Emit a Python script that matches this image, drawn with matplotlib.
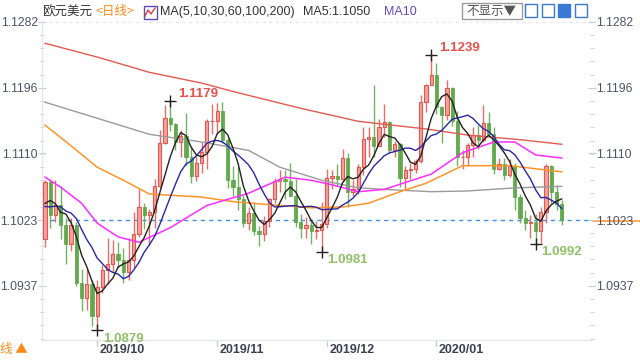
import numpy as np
import pandas as pd
import matplotlib
matplotlib.use("Agg")
import matplotlib.pyplot as plt
from matplotlib.patches import Rectangle
from matplotlib.lines import Line2D
from matplotlib.transforms import blended_transform_factory

plt.rcParams['font.family'] = ['Liberation Sans', 'Noto Sans CJK SC', 'DejaVu Sans']

# ---------------- dados (EUR/USD diário) ----------------
datas = pd.bdate_range("2019-09-17", "2020-02-05")
datas = datas[~datas.isin(pd.to_datetime(["2019-12-25", "2020-01-01"]))]

abertura = [1.0998, 1.1073, 1.1030, 1.1042, 1.1017, 1.0992, 1.1016, 1.0941, 1.0921, 1.0940,
            1.0898, 1.0935, 1.0958, 1.0966, 1.0978, 1.0971, 1.0955, 1.0971, 1.1005, 1.1040,
            1.1029, 1.1033, 1.1068, 1.1124, 1.1156, 1.1148, 1.1125, 1.1133, 1.1105, 1.1080,
            1.1098, 1.1112, 1.1152, 1.1152, 1.1165, 1.1128, 1.1075, 1.1066, 1.1050, 1.1019,
            1.1032, 1.1008, 1.1005, 1.1022, 1.1050, 1.1074, 1.1077, 1.1074, 1.1055, 1.1020,
            1.1012, 1.1017, 1.1008, 1.1010, 1.1018, 1.1078, 1.1081, 1.1077, 1.1104, 1.1059,
            1.1063, 1.1092, 1.1129, 1.1131, 1.1120, 1.1144, 1.1151, 1.1114, 1.1122, 1.1078,
            1.1089, 1.1090, 1.1100, 1.1177, 1.1200, 1.1213, 1.1171, 1.1160, 1.1195, 1.1153,
            1.1105, 1.1106, 1.1121, 1.1134, 1.1128, 1.1150, 1.1136, 1.1090, 1.1096, 1.1082,
            1.1094, 1.1053, 1.1026, 1.1019, 1.1021, 1.1008, 1.1033, 1.1093, 1.1060, 1.1044]
maxima = [1.1075, 1.1076, 1.1075, 1.1068, 1.1025, 1.1025, 1.1020, 1.0959, 1.0959, 1.0944,
          1.0944, 1.0964, 1.0999, 1.0997, 1.0994, 1.0986, 1.0999, 1.1034, 1.1063, 1.1045,
          1.1038, 1.1076, 1.1140, 1.1173, 1.1179, 1.1150, 1.1140, 1.1163, 1.1118, 1.1107,
          1.1125, 1.1155, 1.1175, 1.1176, 1.1177, 1.1130, 1.1093, 1.1092, 1.1056, 1.1040,
          1.1047, 1.1015, 1.1028, 1.1052, 1.1078, 1.1088, 1.1089, 1.1097, 1.1077, 1.1031,
          1.1027, 1.1024, 1.1022, 1.1047, 1.1090, 1.1089, 1.1096, 1.1116, 1.1110, 1.1075,
          1.1096, 1.1145, 1.1145, 1.1200, 1.1155, 1.1175, 1.1153, 1.1126, 1.1124, 1.1093,
          1.1097, 1.1103, 1.1187, 1.1201, 1.1239, 1.1228, 1.1172, 1.1206, 1.1197, 1.1166,
          1.1114, 1.1124, 1.1144, 1.1147, 1.1173, 1.1164, 1.1145, 1.1104, 1.1104, 1.1103,
          1.1098, 1.1057, 1.1036, 1.1030, 1.1031, 1.1040, 1.1096, 1.1095, 1.1069, 1.1049]
minima = [1.0988, 1.1013, 1.1020, 1.0998, 1.0966, 1.0982, 1.0937, 1.0904, 1.0905, 1.0885,
          1.0879, 1.0928, 1.0940, 1.0955, 1.0960, 1.0941, 1.0945, 1.0960, 1.1001, 1.1011,
          1.0991, 1.1012, 1.1065, 1.1122, 1.1139, 1.1115, 1.1105, 1.1094, 1.1071, 1.1074,
          1.1085, 1.1090, 1.1135, 1.1136, 1.1124, 1.1065, 1.1055, 1.1036, 1.1014, 1.1010,
          1.1003, 1.0989, 1.0996, 1.1014, 1.1045, 1.1060, 1.1051, 1.1054, 1.1014, 1.0999,
          1.1000, 1.0992, 1.0998, 1.0981, 1.1012, 1.1063, 1.1067, 1.1073, 1.1040, 1.1055,
          1.1057, 1.1082, 1.1106, 1.1105, 1.1120, 1.1131, 1.1110, 1.1106, 1.1066, 1.1064,
          1.1077, 1.1085, 1.1097, 1.1164, 1.1199, 1.1162, 1.1124, 1.1154, 1.1146, 1.1093,
          1.1090, 1.1094, 1.1105, 1.1116, 1.1125, 1.1133, 1.1083, 1.1088, 1.1075, 1.1079,
          1.1036, 1.1019, 1.1010, 1.0999, 1.0992, 1.0993, 1.1019, 1.1045, 1.1036, 1.1016]
fechamento = [1.1073, 1.1030, 1.1042, 1.1017, 1.0992, 1.1016, 1.0941, 1.0921, 1.0940, 1.0898,
              1.0935, 1.0958, 1.0966, 1.0978, 1.0971, 1.0955, 1.0971, 1.1005, 1.1040, 1.1029,
              1.1033, 1.1068, 1.1124, 1.1156, 1.1148, 1.1125, 1.1133, 1.1105, 1.1080, 1.1098,
              1.1112, 1.1152, 1.1152, 1.1165, 1.1128, 1.1075, 1.1066, 1.1050, 1.1019, 1.1032,
              1.1008, 1.1005, 1.1022, 1.1050, 1.1074, 1.1077, 1.1074, 1.1055, 1.1020, 1.1012,
              1.1017, 1.1008, 1.1010, 1.1018, 1.1078, 1.1081, 1.1077, 1.1104, 1.1059, 1.1063,
              1.1092, 1.1129, 1.1131, 1.1120, 1.1144, 1.1151, 1.1114, 1.1122, 1.1078, 1.1089,
              1.1090, 1.1100, 1.1177, 1.1200, 1.1213, 1.1171, 1.1160, 1.1195, 1.1153, 1.1105,
              1.1106, 1.1121, 1.1134, 1.1128, 1.1150, 1.1136, 1.1090, 1.1096, 1.1082, 1.1094,
              1.1053, 1.1026, 1.1019, 1.1021, 1.1008, 1.1033, 1.1093, 1.1060, 1.1044, 1.1023]
# fechamentos anteriores ao início do gráfico (para MA5 / MA10)
fech_anteriores = [1.1034, 1.1032, 1.1027, 1.1046, 1.1044, 1.1010, 1.1064, 1.1073, 1.1003]

# médias longas (índice do candle, valor)
ma30_idx = [0, 3, 7, 10, 14, 18, 24, 31, 39, 46, 51, 55, 60, 65, 69, 74, 80, 86, 90, 94, 99]
ma30_val = [1.1079, 1.1066, 1.1045, 1.1019, 1.1001, 1.0994, 1.1013, 1.1042, 1.1058, 1.1079, 1.1075,
            1.1069, 1.1060, 1.1063, 1.1072, 1.1083, 1.1111, 1.1125, 1.1125, 1.1108, 1.1104]
ma60_idx = [0, 5, 10, 15, 20, 30, 36, 43, 51, 57, 62, 68, 73, 80, 89, 99]
ma60_val = [1.1147, 1.1120, 1.1092, 1.1075, 1.1057, 1.1053, 1.1047, 1.1043, 1.1039, 1.1040,
            1.1045, 1.1060, 1.1071, 1.1094, 1.1094, 1.1086]
ma100_idx = [0, 10, 20, 30, 39, 45, 53, 60, 68, 74, 81, 90, 99]
ma100_val = [1.1177, 1.1156, 1.1135, 1.1125, 1.1114, 1.1092, 1.1075, 1.1065, 1.1062, 1.1060,
             1.1061, 1.1065, 1.1067]
ma200_idx = [0, 10, 20, 30, 36, 49, 60, 73, 81, 91, 99]
ma200_val = [1.1254, 1.1236, 1.1216, 1.1202, 1.1191, 1.1169, 1.1152, 1.1142, 1.1134, 1.1128, 1.1122]

yticks = [1.0937, 1.1023, 1.1110, 1.1196, 1.1282]
preco_atual = 1.1023
meses_rotulo = ["2019/10", "2019/11", "2019/12", "2020/01"]

# extremos marcados: (índice, preço, tipo)
extremos = [(10, 1.0879, "low"), (24, 1.1179, "high"), (53, 1.0981, "low"),
            (74, 1.1239, "high"), (94, 1.0992, "low")]

# ---------------- figura ----------------
W, H = 640, 360
fig = plt.figure(figsize=(6.4, 3.6), dpi=100)
ax = fig.add_axes([42 / W, 20 / H, 550 / W, 320 / H])

x = np.arange(len(fechamento))
o = np.array(abertura)
c = np.array(fechamento)
hi = np.array(maxima)
lo = np.array(minima)
sobe = c >= o

RED_EDGE, RED_FACE = "#e5544e", "#f2a29d"
GREEN = "#5aa546"

ax.vlines(x[sobe], lo[sobe], hi[sobe], color=RED_EDGE, lw=1, alpha=0.85, zorder=2)
ax.vlines(x[~sobe], lo[~sobe], hi[~sobe], color=GREEN, lw=1, alpha=0.85, zorder=2)
alt = np.maximum(np.abs(c - o), 0.00008)
ax.bar(x[sobe], alt[sobe], bottom=o[sobe], width=0.62, color=RED_FACE,
       edgecolor=RED_EDGE, lw=0.8, zorder=3)
ax.bar(x[~sobe], alt[~sobe], bottom=c[~sobe], width=0.62, color=GREEN,
       edgecolor=GREEN, lw=0.6, alpha=0.9, zorder=3)

# médias móveis
todos = pd.Series(fech_anteriores + fechamento)
ma5 = todos.rolling(5).mean().to_numpy()[len(fech_anteriores):]
ma10 = todos.rolling(10).mean().to_numpy()[len(fech_anteriores):]

ax.plot(ma200_idx, ma200_val, color="#e35a50", lw=1, zorder=4)
ax.plot(ma100_idx, ma100_val, color="#9a9a9a", lw=1, zorder=4)
ax.plot(ma60_idx, ma60_val, color="#ff9428", lw=1.1, zorder=4)
ax.plot(ma30_idx, ma30_val, color="#ff2cff", lw=1.1, zorder=4)
ax.plot(x, ma10, color="#2727a8", lw=1, zorder=5)
ax.plot(x, ma5, color="#222222", lw=1, zorder=6)

# linha do preço atual e linha tracejada do topo
ax.axhline(preco_atual, color="#3f8fe6", lw=1, ls=(0, (3, 3)), zorder=1)
ax.axhline(yticks[-1], color="#e4e6ee", lw=0.8, ls=(0, (3, 3)), zorder=0)

# extremos
for i, p, tipo in extremos:
    ax.plot(i, p, marker="+", color="#222", ms=8, mew=1, zorder=7)
    if tipo == "high":
        ax.annotate(f"{p:.4f}", (i, p), xytext=(5.5, 5), textcoords="offset points",
                    color="#e8504a", fontsize=9.5, fontweight="bold", ha="left", va="center")
    else:
        ax.annotate(f"{p:.4f}", (i, p), xytext=(4, -6), textcoords="offset points",
                    color="#8fc067", fontsize=9.5, fontweight="bold", ha="left", va="center")

# eixos
ax.set_xlim(-0.575, 104.8)
ax.set_ylim(1.08662, 1.12844)
ax.set_yticks(yticks)
ax.set_yticklabels([f"{v:.4f}" for v in yticks])
ax.set_yticks(np.arange(1.0937 - 4 * 0.001725, 1.1290, 0.001725), minor=True)
ax.tick_params(axis="y", which="both", left=True, right=True, labelleft=True,
               labelright=True, direction="inout", colors="#c8ccd8",
               labelcolor="#4f5566", labelsize=8.8, pad=0)
ax.tick_params(axis="y", which="major", length=6)
ax.tick_params(axis="y", which="minor", length=3)
ax.set_xticks([])
for s in ["top", "right"]:
    ax.spines[s].set_visible(False)
ax.spines["left"].set_color("#e2e4ec")
ax.spines["bottom"].set_color("#e2e4ec")
ax.grid(False)

# rótulos de mês
tr = blended_transform_factory(ax.transData, ax.transAxes)
meses = pd.Series(datas.strftime("%Y/%m"))
for rotulo in meses_rotulo:
    i = meses[meses == rotulo].index[0]
    ax.plot([i, i], [0, -0.02], color="#c8ccd8", lw=1, transform=tr, clip_on=False)
    ax.text(i + 0.5, -10 / 320, rotulo, transform=tr, ha="left", va="center",
            fontsize=9, fontweight="bold", color="#3c4150")

# ---------------- cabeçalho ----------------
def fx(px):
    return px / W

def fy(py):
    return 1 - py / H

fig.text(fx(42), fy(12), "欧元美元", fontsize=9, color="#333333", va="center",
         family=["Noto Sans CJK SC", "DejaVu Sans"])
fig.text(fx(95), fy(12), "<日线>", fontsize=9, color="#ff8a1c", va="center",
         family=["Noto Sans CJK SC", "DejaVu Sans"])
fig.add_artist(Rectangle((fx(144), fy(19)), 13 / W, 13 / H, transform=fig.transFigure,
                         fill=False, ec="#5a4bc0", lw=1))
fig.add_artist(Line2D([fx(145), fx(148), fx(151), fx(155)], [fy(16), fy(10), fy(14), fy(8)],
                      transform=fig.transFigure, color="#e0403a", lw=1))
fig.text(fx(160), fy(12), "MA(5,10,30,60,100,200)", fontsize=9, color="#333333", va="center")
fig.text(fx(303), fy(12), "MA5:1.1050", fontsize=9, color="#333333", va="center")
fig.text(fx(384), fy(12), "MA10", fontsize=9, color="#6a48c4", va="center")

fig.add_artist(Rectangle((fx(462), fy(19)), 60 / W, 16 / H, transform=fig.transFigure,
                         fill=True, fc="white", ec="#9a9a9a", lw=1))
fig.text(fx(466), fy(11), "不显示▼", fontsize=9, color="#555555", va="center",
         family=["Noto Sans CJK SC", "DejaVu Sans"])
for k, xb in enumerate([525, 542, 558, 575]):
    fig.add_artist(Rectangle((fx(xb), fy(17)), 12 / W, 13 / H, transform=fig.transFigure,
                             fill=(k == 2), fc="#3a78d6", ec="#3a78d6", lw=1))

# marca laranja do preço no eixo direito
fig.add_artist(Line2D([fx(592), fx(640)], [fy(220.5), fy(220.5)], transform=fig.transFigure,
                      color="#ff9a3c", lw=1.2, zorder=0))
fig.text(fx(0), fy(350), "线 ▲", fontsize=9, color="#ff8a1c", va="center",
         family=["Noto Sans CJK SC", "DejaVu Sans"])

fig.savefig("out.png", dpi=100, facecolor="white")
